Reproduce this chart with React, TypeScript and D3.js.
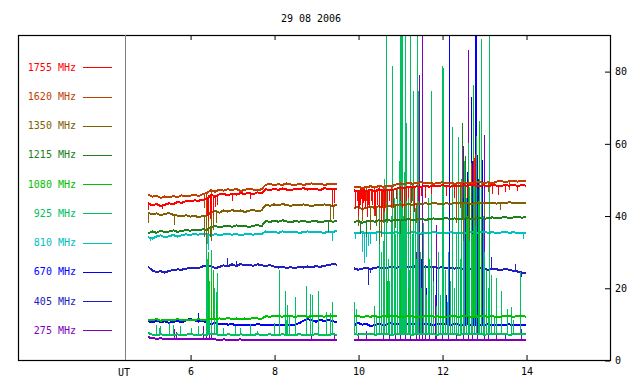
import React, { useEffect, useRef } from 'react';
import * as d3 from 'd3';

// sampling grid of the two recording segments (hours UT)
const seg1Start = 5.0;
const seg2Start = 9.9;
const step = 0.1;

const freqLabels = ['1755 MHz', '1620 MHz', '1350 MHz', '1215 MHz', '1080 MHz', '925 MHz', '810 MHz', '670 MHz', '405 MHz', '275 MHz'];
const freqColors = ['#ff0000', '#c04000', '#806000', '#208020', '#00c000', '#00c060', '#00c0c0', '#0000ff', '#2020c0', '#8000c0'];
const xTicks = [6, 8, 10, 12, 14];
const yTicks = [0, 20, 40, 60, 80];

// segment 1: 5.0 .. 9.5 UT
const v1755a = [43.5,42.8,43.2,42.6,43.0,43.4,43.1,43.8,43.5,44.0, 44.0,44.2,44.1,44.4,44.6, 45.8,45.2,45.9,46.0,45.6, 46.1,45.8,46.2,46.0,46.3,45.9,46.4,46.2, 47.3,47.0,47.4,47.1,47.5,47.2,47.0,47.4,47.3,47.6,47.2,47.5,47.4,47.0,47.6,47.3,47.5,47.4];
const v1620a = [45.8,45.2,45.5,44.9,45.3,45.0,45.4,45.1,45.6,45.3, 45.5,45.8,45.4,45.9,46.3, 47.0,46.6,47.2,46.9,47.3, 47.0,47.4,46.8,47.1,47.5,47.2,46.9,47.3, 48.5,48.8,48.4,48.7,48.5,48.9,48.6,48.4,48.8,48.5,48.7,48.9,48.6,48.8,48.5,48.7,48.6,48.8];
const v1350a = [40.8,40.3,40.6,40.1,40.4,40.7,40.2,40.0,39.8,40.1, 39.7,39.9,39.6,39.8,40.0, 41.0,41.3,40.8,41.4,41.1, 41.5,41.2,41.4,41.0,41.3,41.6,41.2,41.4, 43.0,42.7,43.1,42.8,43.2,42.9,42.7,43.0,42.8,43.1,42.9,42.6,43.0,42.8,43.1,42.9,42.7,42.9];
const v1215a = [35.0,35.6,35.2,35.8,35.4,35.6,35.9,35.5,35.7,36.0, 35.8,36.1,35.9,36.2,36.0, 36.8,37.1,36.7,37.0,37.2, 36.9,37.3,37.0,37.2,36.8,37.1,37.4,37.0, 38.5,38.2,38.6,38.3,38.7,38.4,38.1,38.5,38.3,38.6,38.2,38.4,38.5,38.1,38.4,38.6,38.3,38.5];
const v1080a = [11.2,11.0,11.3,10.9,11.1,11.2,11.0,11.3,11.1,11.0, 11.2,11.1,11.3,11.0,11.2, 11.4,11.3,11.5,11.4,11.6, 11.4,11.5,11.3,11.5,11.4,11.6,11.5,11.4, 12.1,12.0,12.2,12.1,12.0,12.2,12.1,12.0,12.1,12.2,12.0,12.1,12.2,12.1,12.0,12.2,12.1,12.1];
const v925a = [7.5,7.0,6.9,7.1,7.0,6.8,7.0,7.1,6.9,7.0, 7.2,7.0,6.9,7.1,7.0, 7.2,7.1,7.0,6.9,7.1, 7.0,6.9,7.1,7.0,6.9,7.0,7.1,7.0, 7.0,7.1,6.9,7.0,7.1,7.0,6.9,7.0,7.1,7.0,6.9,7.0,7.1,7.0,6.9,7.0,7.1,7.0];
const v810a = [34.0,33.6,34.2,34.5,34.0,34.3,34.6,34.2,34.5,34.8, 34.6,34.9,34.7,35.0,34.8, 34.5,34.9,34.6,34.8,35.0, 34.7,34.9,34.6,34.8,35.0,34.7,34.9,34.8, 35.6,35.3,35.5,35.2,35.6,35.4,35.3,35.5,35.2,35.4,35.6,35.3,35.5,35.4,35.2,35.6,35.5,35.7];
const v670a = [10.8,10.4,10.9,10.5,10.7,10.3,10.6,10.8,10.5,10.9, 11.4,11.0,10.6,10.9,10.4, 10.0,10.2,9.9,10.1,9.8, 9.9,9.7,9.8,9.6,9.8,9.7,9.9,9.8, 9.7,9.8,9.6,9.7,9.8,9.7,9.6,9.8,10.2,10.9,11.3,11.0,10.6,11.1,10.8,11.2,10.7,10.5];
const v405a = [25.8,24.8,24.3,24.6,24.2,24.7,24.9,25.1,25.0,25.3, 25.4,25.6,25.5,25.9,26.1, 26.0,25.4,25.8,26.2,25.9, 26.5,26.0,26.6,26.2,26.4,26.1,26.5,26.3, 26.0,26.3,25.9,25.6,25.8,25.5,25.7,25.4,25.8,25.6,25.9,25.7,26.0,25.8,26.1,26.3,26.6,26.4];
const v275a = [6.3,6.1,5.9,6.0,5.8,5.9,5.8,5.7,5.8,5.7, 5.8,5.7,5.9,5.8,5.7, 5.8,5.7,5.6,5.7,5.6, 5.5,5.6,5.7,5.5,5.6,5.5,5.6,5.5, 5.5,5.6,5.5,5.4,5.5,5.6,5.5,5.4,5.5,5.6,5.5,5.4,5.5,5.6,5.5,5.4,5.5,5.6];

// segment 2: 9.9 .. 14.0 UT
const v1755b = [47.0,46.6,47.2,46.8,47.1,46.7,47.3,46.9,47.2,47.0, 47.4,47.8,47.5,48.0,47.7,48.1,47.9,48.2,48.0,48.3, 48.1,48.4,48.2,48.0,48.3,48.1,48.4,48.2,48.5,48.3, 48.2,48.4,48.1,48.5,48.3,48.2,48.4,48.3,48.5,48.2,48.4,48.3];
const v1620b = [47.8,48.0,47.6,47.9,48.1,47.8,48.2,48.0,48.3,48.1, 48.6,48.9,48.7,49.1,48.8,49.0,49.2,48.9,49.1,48.8, 49.0,49.2,48.9,49.1,48.8,49.0,49.2,49.0,48.9,49.1, 49.3,49.0,49.2,48.9,49.4,49.6,49.3,49.5,49.7,49.4,49.6,49.5];
const v1350b = [42.0,42.4,41.8,42.2,42.5,42.1,42.6,42.3,42.8,42.5, 42.9,43.1,42.8,43.2,43.0,43.3,43.1,43.4,43.2,43.5, 43.3,43.1,43.4,43.2,43.5,43.3,43.6,43.4,43.2,43.5, 43.3,43.6,43.4,43.5,43.3,43.6,43.4,43.7,43.5,43.6,43.4,43.6];
const v1215b = [38.2,38.5,38.0,38.4,38.6,38.3,38.7,38.4,38.8,38.5, 38.9,38.6,38.8,39.0,38.7,38.9,39.1,38.8,39.0,39.2, 38.9,39.1,39.3,39.0,39.2,38.9,39.1,39.3,39.0,39.2, 39.4,39.1,39.3,39.5,39.2,39.4,39.6,39.3,39.5,39.7,39.4,39.6];
const v1080b = [12.0,12.2,11.9,12.1,12.0,12.2,11.9,12.1,12.0,12.2, 12.1,11.9,12.0,12.2,12.1,11.9,12.0,12.1,12.2,12.0, 12.1,11.9,12.0,12.2,12.1,12.0,12.2,12.1,11.9,12.0, 12.1,12.2,12.0,12.1,11.9,12.0,12.2,12.1,12.0,12.1,12.2,12.0];
const v925b = [7.2,7.0,7.3,7.1,7.2,7.0,7.1,7.3,7.2,7.0, 7.1,7.2,7.3,7.1,7.0,7.2,7.1,7.3,7.2,7.1, 7.0,7.2,7.1,7.3,7.2,7.0,7.1,7.2,7.3,7.1, 7.2,7.0,7.1,7.2,7.3,7.1,7.2,7.0,7.1,7.2,7.1,7.2];
const v810b = [35.3,35.0,35.4,35.1,35.3,35.2,35.5,35.1,35.3,35.0, 35.4,35.2,35.3,35.1,35.4,35.2,35.0,35.3,35.1,35.4, 35.2,35.3,35.1,35.4,35.2,35.0,35.3,35.1,35.4,35.2, 35.3,35.5,35.2,35.4,35.1,35.3,35.5,35.2,35.4,35.1,35.3,35.2];
const v670b = [9.5,10.3,9.8,10.0,9.4,9.7,10.1,9.6,9.9,10.2, 9.8,10.0,9.7,10.1,9.9,10.2,9.8,10.0,9.9,9.6, 10.1,9.8,9.9,9.7,10.0,9.8,9.6,9.9,9.7,9.8, 9.6,9.7,9.9,9.7,9.6,9.8,9.7,9.9,9.6,9.7,9.8,9.7];
const v405b = [25.4,25.0,25.3,25.6,25.2,25.5,25.7,25.4,25.6,25.8, 25.5,25.7,25.9,25.6,25.8,26.0,25.7,25.9,25.6,25.8, 25.5,25.7,25.4,25.6,25.3,25.5,25.2,25.4,25.3,25.1, 25.4,25.2,25.0,25.3,25.1,24.9,25.2,25.0,24.7,24.5,24.2,24.0];
const v275b = [5.5,5.4,5.6,5.5,5.4,5.5,5.6,5.5,5.4,5.5, 5.6,5.5,5.4,5.5,5.6,5.5,5.4,5.5,5.6,5.5, 5.4,5.5,5.6,5.5,5.4,5.5,5.6,5.5,5.4,5.5, 5.6,5.5,5.4,5.5,5.6,5.5,5.4,5.5,5.6,5.5,5.4,5.5];

// bursts and dropouts: [time UT, value]
const s1755 = [[5.02,41.5],[5.35,41.8],[6.42,40],[6.45,38.5],[6.48,39],[6.52,41],[6.55,40.2],[6.6,42.5],[6.66,43],[7.02,44],[7.45,44.5],[9.38,42.5],[9.45,43.5],
  [9.93,43.5],[9.95,42],[9.98,44],[10.0,40],[10.03,42.5],[10.05,43],[10.08,44.5],[10.1,41],[10.12,43.5],[10.15,44],[10.18,42],[10.22,39.5],[10.25,43],[10.28,42],[10.32,44],[10.35,43],[10.38,41.5],[10.42,40],[10.46,43],[10.5,42],[10.55,38.5],[10.58,42],[10.62,41],[10.66,44],[10.7,43],[10.75,44],[10.8,42.5],[10.85,42],[10.92,44.5],[11.0,44],[11.05,42],[11.1,43],[11.15,44],[11.2,45],[11.27,43.5],[11.35,41],[11.45,44],[11.52,45.5],[11.6,45],[11.75,46],[12.1,45.5],[12.3,44.8],[12.6,45],[12.75,55],[12.8,57],[13.2,46],[13.35,45.8],[13.5,46.5],[13.8,46.8]];
const s1620 = [[6.35,42],[6.4,40],[6.5,43],[10.2,44],[10.4,40],[10.52,42],[10.6,38],[10.65,42],[10.8,43],[11.3,44],[12.35,40],[12.45,42],[12.7,54],[12.78,56],[13.1,46.5],[13.6,47]];
const s1350 = [[5.0,38],[5.62,37.5],[6.35,34],[6.4,32],[6.45,35],[6.5,33],[6.55,36],[6.62,38],[9.35,38.5],[9.42,39],[10.0,37],[10.1,38.5],[10.3,36],[10.45,37],[10.55,34],[10.7,38],[10.9,36.5],[11.1,39],[11.25,35],[11.4,38],[12.35,38],[12.5,35],[12.65,33],[12.8,37],[13.0,40],[13.4,41.5]];
const s1215 = [[6.38,32],[6.48,34],[9.3,35.5],[10.05,35],[10.2,34],[10.5,32],[11.0,35],[12.48,65.7],[12.5,33],[12.57,56.5],[12.62,50],[12.7,54.6],[12.8,48]];
const s1080 = [[6.45,30],[6.5,22],[6.55,25],[6.62,16],[10.7,22],[11.0,25],[11.2,20],[12.6,40],[12.74,76.1],[12.8,45],[12.9,66.2],[12.95,35]];
const s925 = [[5.2,9.7],[5.28,9],[5.3,9.3],[5.52,10.3],[5.6,9.7],[5.76,9.3],[6.04,8.9],[6.2,9.4],[6.38,34],[6.42,28],[6.45,22],[6.47,22],[6.52,30.5],[6.58,20],[6.62,18.9],[6.66,24],[6.8,9],[7.07,9.4],[7.19,9],[7.43,9.9],[7.6,8.1],[8.02,10.2],[8.13,25],[8.28,19],[8.3,11],[8.33,15.3],[8.36,12.5],[8.5,17.5],[8.78,20.4],[8.87,18.3],[8.91,18],[9.06,19.2],[9.25,13.4],[9.35,13],[9.39,16.2],
  [9.92,16],[9.97,14],[10.4,15],[10.45,12],[10.5,38],[10.52,44],[10.56,30],[10.6,33],[10.64,50],[10.68,95],[10.72,28],[10.76,22],[10.8,40],[10.82,81.5],[10.86,45],[10.9,35],[10.94,48],[10.98,55],[11.0,45],[11.02,95],[11.04,95],[11.06,95],[11.08,40],[11.1,52],[11.12,95],[11.14,30],[11.16,65.6],[11.19,45],[11.22,25],[11.24,50],[11.26,95],[11.29,35],[11.31,48],[11.33,74.5],[11.36,42],[11.38,28],[11.41,95],[11.44,74.5],[11.48,30],[11.52,20],[11.56,38],[11.6,26],[11.64,18],[11.68,45],[11.71,28],[11.75,74.5],[11.8,22],[11.86,15],[11.92,30],[11.96,18],[12.01,81.3],[12.03,80.8],[12.08,25],[12.12,16],[12.16,30],[12.2,22],[12.25,64.5],[12.3,20],[12.34,35],[12.39,61.8],[12.43,28],[12.47,50],[12.5,40],[12.54,55],[12.58,45],[12.62,60],[12.66,48],[12.7,52],[12.73,35],[12.77,50],[12.81,62],[12.86,44],[12.9,50],[12.94,88.9],[12.98,40],[13.02,30],[13.06,25],[13.1,20],[13.13,95],[13.18,23.6],[13.25,12],[13.3,22.7],[13.42,19],[13.55,14],[13.66,14.8],[13.7,11],[13.86,24.5]];
const s810 = [[5.05,33],[6.38,29],[6.42,32],[6.45,30.5],[9.4,33],[9.95,33.5],[10.1,30],[10.15,27],[10.2,28.5],[10.25,31.5],[10.3,32],[10.45,33],[12.4,32],[13.95,33.5]];
const s670 = [[6.2,13],[6.4,15],[6.45,13],[10.95,22],[11.05,18],[11.5,28],[11.62,20],[11.88,25],[12.1,18],[12.18,95],[12.4,30],[12.46,38],[12.5,45],[12.55,40],[12.6,52],[12.64,48],[12.69,72.7],[12.72,55],[12.76,60],[12.79,95],[12.83,95],[12.84,56.9],[12.88,50],[12.96,55.3],[13.0,30],[13.05,20]];
const s405 = [[6.9,28.3],[7.1,27.4],[10.24,20.8],[10.3,24],[11.05,22],[11.8,21],[13.18,28.5],[13.74,26.6],[13.9,23]];
const s275 = [[5.64,8.5],[5.67,7.8],[6.31,9.4],[6.4,13.4],[6.47,19],[6.52,15.3],[8.9,6.8],[9.45,6.9],
  [10.0,7.5],[10.2,8],[10.6,13.4],[10.75,9],[10.9,20],[11.0,17.6],[11.12,25],[11.25,40],[11.38,30],[11.46,78.8],[11.53,95],[11.6,22],[11.7,10],[11.85,18],[11.87,37.5],[12.0,9],[12.15,15],[12.35,30],[12.52,59.3],[12.63,85.8],[12.72,35],[12.85,25],[13.02,62.2],[13.1,15],[13.3,8],[13.5,7.5],[13.9,8.5]];

const seriesA = [v1755a, v1620a, v1350a, v1215a, v1080a, v925a, v810a, v670a, v405a, v275a];
const seriesB = [v1755b, v1620b, v1350b, v1215b, v1080b, v925b, v810b, v670b, v405b, v275b];
const bursts = [s1755, s1620, s1350, s1215, s1080, s925, s810, s670, s405, s275];

const width = 640;
const height = 384;
const frameL = 18, frameR = 610, frameT = 35, frameB = 360;
const font = 'DejaVu Sans Mono, monospace';

const App = () => {
  const svgRef = useRef(null);

  useEffect(() => {
    const svg = d3.select(svgRef.current);
    svg.selectAll('*').remove();

    const x = d3.scaleLinear().domain([4.45, 16]).range([125, frameR]);
    const y = d3.scaleLinear().domain([0, 90]).range([frameB, frameT]);
    const legendY = d3.scaleLinear().domain([0, 9]).range([67.3, 330.3]);

    svg.append('defs').append('clipPath').attr('id', 'plotclip')
      .append('rect').attr('x', 125).attr('y', frameT).attr('width', frameR - 125).attr('height', frameB - frameT);

    // title
    svg.append('text').attr('x', 311).attr('y', 22).attr('text-anchor', 'middle')
      .attr('font-family', font).attr('font-size', 10).text('29 08 2006');

    const plot = svg.append('g').attr('clip-path', 'url(#plotclip)').attr('shape-rendering', 'crispEdges');
    const line = d3.line().x(d => x(d[0])).y(d => y(d[1]));

    // lowest frequency first so the higher ones end up on top
    for (let k = 9; k >= 0; k--) {
      const segs = [
        { start: seg1Start, vals: seriesA[k] },
        { start: seg2Start, vals: seriesB[k] },
      ];
      const g = plot.append('g').attr('stroke', freqColors[k]).attr('fill', 'none');
      segs.forEach(s => {
        const pts = s.vals.map((v, i) => [s.start + i * step, v]);
        g.append('path').datum(pts).attr('d', line).attr('stroke-width', 2);
      });
      bursts[k].forEach(([t, v]) => {
        const s = t < 9.7 ? segs[0] : segs[1];
        const i = Math.max(0, Math.min(s.vals.length - 1, Math.round((t - s.start) / step)));
        g.append('line')
          .attr('x1', x(t)).attr('x2', x(t))
          .attr('y1', y(s.vals[i])).attr('y2', y(v))
          .attr('stroke-width', 1);
      });
    }

    // frame and UT separator
    svg.append('rect').attr('x', frameL + 0.5).attr('y', frameT + 0.5)
      .attr('width', frameR - frameL).attr('height', frameB - frameT)
      .attr('fill', 'none').attr('stroke', '#000').attr('stroke-width', 1.2);
    svg.append('line').attr('x1', 125.5).attr('x2', 125.5).attr('y1', frameT).attr('y2', frameB)
      .attr('stroke', '#808080');

    const bottom = svg.append('g').attr('transform', `translate(0.5,${frameB})`)
      .call(d3.axisBottom(x).tickValues(xTicks).tickSize(-5).tickPadding(8));
    const top = svg.append('g').attr('transform', `translate(0.5,${frameT})`)
      .call(d3.axisTop(x).tickValues(xTicks).tickSize(-5).tickFormat(() => ''));
    const right = svg.append('g').attr('transform', `translate(${frameR},0.5)`)
      .call(d3.axisRight(y).tickValues(yTicks).tickSize(-5).tickPadding(5));
    [bottom, top, right].forEach(a => {
      a.select('.domain').remove();
      a.attr('font-family', font).attr('font-size', 10);
      a.selectAll('line').attr('stroke', '#000');
    });

    svg.append('text').attr('x', 124).attr('y', 376).attr('text-anchor', 'middle')
      .attr('font-family', font).attr('font-size', 10).text('UT');

    // legend
    const leg = svg.append('g');
    freqLabels.forEach((lab, i) => {
      const ly = legendY(i);
      leg.append('text').attr('x', 76).attr('y', ly).attr('dy', '0.35em')
        .attr('text-anchor', 'end').attr('font-family', font).attr('font-size', 10)
        .attr('fill', freqColors[i]).text(lab);
      leg.append('line').attr('x1', 83).attr('x2', 112)
        .attr('y1', Math.round(ly) + 0.5).attr('y2', Math.round(ly) + 0.5)
        .attr('stroke', freqColors[i]);
    });
  }, []);

  return (
    <svg ref={svgRef} width={width} height={height}
      style={{ position: 'absolute', left: 0, top: 0, background: '#fff' }} />
  );
};

export default App;
